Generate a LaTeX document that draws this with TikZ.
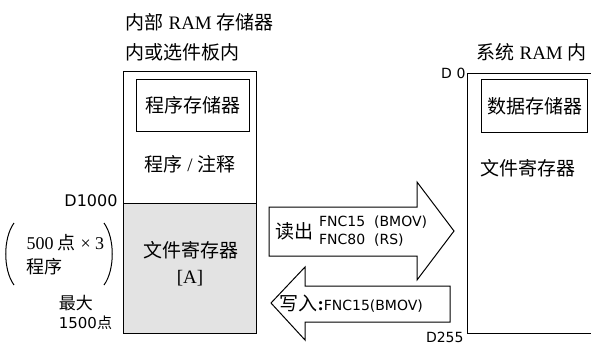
\documentclass[tikz,border=0pt]{standalone}
\usepackage{fontspec}
\setmainfont{Liberation Serif}
\setsansfont{DejaVu Sans}
\newfontfamily\cjk{Noto Sans CJK SC}
\usetikzlibrary{positioning}
\newcommand{\zh}[1]{{\cjk #1}}
\newcommand{\addrfont}{\fontsize{14}{18}\selectfont\sffamily}

\begin{document}
\begin{tikzpicture}[
    x=1pt, y=-1pt,
    line width=1pt,
    font=\fontsize{19}{22}\selectfont,
    membox/.style={draw, anchor=north west, inner sep=0pt},
    addr/.style={font=\addrfont, inner sep=1pt},
    arrowbody/.style={draw, fill=white, line join=miter}
]
\useasboundingbox (0,0) rectangle (591,345);

% left memory column
\node[anchor=west] (hdr1) at (122,22) {\zh{内部} RAM \zh{存储器}};
\node[anchor=west] (hdr2) at (122,52) {\zh{内或选件板内}};

\node[membox, minimum width=133pt, minimum height=132pt] (prog) at (123,71) {};
\node[membox, fill=gray!22, minimum width=133pt, minimum height=130pt] (file) at (123,203) {};
\node[membox, minimum width=113pt, minimum height=52pt] (progmem) at (136,79) {\zh{程序存储器}};
\node (note) at (190,164) {\zh{程序} / \zh{注释}};
\node (filetxt) at (191,250) {\zh{文件寄存器}};
\node (fileA) at (190,278) {[A]};

\node[addr, anchor=east, font=\fontsize{16}{18}\selectfont\sffamily] (d1000) at (119,201) {D1000};
\draw (14,223) .. controls (3,238) and (3,270) .. (14,285);
\draw (104,223) .. controls (115,238) and (115,270) .. (104,285);
\node[anchor=west, inner sep=0pt, font=\fontsize{18}{22}\selectfont] (pts) at (26,243) {500 \zh{点} × 3};
\node[anchor=west, inner sep=0pt, font=\fontsize{18}{22}\selectfont\cjk] (progs) at (26,267) {程序};
\node[anchor=west, font=\fontsize{17}{18}\selectfont\cjk] (max) at (55,303) {最大};
\node[anchor=west] (maxpts) at (55,323) {\fontsize{15}{18}\selectfont\sffamily 1500\zh{点}};

% right memory column
\node[anchor=west] (hdr3) at (473,52) {\zh{系统} RAM \zh{内}};
\coordinate (ramtop) at (467,73);
\coordinate (rambot) at (467,333);
\draw (591,73) -- (ramtop) -- (rambot) -- (591,333);
\node[membox, minimum width=106pt, minimum height=53pt] (datamem) at (481,79) {\zh{数据存储器}};
\node (ramfile) at (528,168) {\zh{文件寄存器}};
\node[addr, anchor=east] (d0) at (ramtop) {D\,\,0};
\node[addr, anchor=east] (d255) at (465,337) {D255};

% transfer arrows
\draw[arrowbody] (269,207) -- (417,207) -- (417,182) -- (454,231)
    -- (417,280) -- (417,256) -- (269,256) -- cycle;
\node[anchor=west] (rd) at (272,231) {\zh{读出}};
\node[addr, anchor=west, align=left] (rdfnc) at (rd.east) {FNC15 \ (BMOV)\\FNC80 \ (RS)};

\draw[arrowbody] (271,303) -- (305,267) -- (305,286) -- (450,286)
    -- (450,322) -- (305,322) -- (305,340) -- cycle;
\node[anchor=west, inner sep=1pt] (wr) at (278,304) {\zh{写入}\textbf{:}\addrfont FNC15(BMOV)};
\end{tikzpicture}
\end{document}
